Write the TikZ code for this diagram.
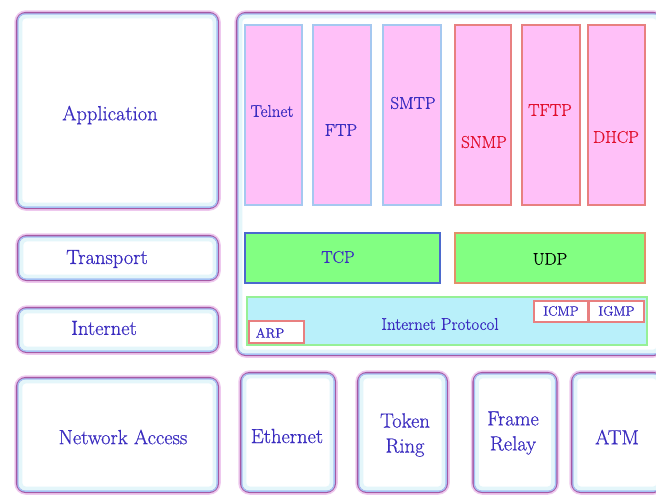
\documentclass[tikz,border=0pt]{standalone}
\usepackage{fontspec}
\setmainfont{Latin Modern Roman}[FakeBold=0.6]
\usetikzlibrary{positioning}
\definecolor{txtblue}{RGB}{58,44,192}
\definecolor{txtred}{RGB}{225,15,45}
\definecolor{layerpurple}{RGB}{165,90,165}
\definecolor{glowpink}{RGB}{238,200,238}
\definecolor{glowblue}{RGB}{165,195,245}
\definecolor{glowcyan}{RGB}{228,246,250}
\definecolor{appfill}{RGB}{255,192,248}
\definecolor{appblue}{RGB}{165,200,240}
\definecolor{appred}{RGB}{232,128,128}
\definecolor{tpgreen}{RGB}{130,255,130}
\definecolor{tcpborder}{RGB}{75,105,205}
\definecolor{udpborder}{RGB}{225,145,105}
\definecolor{ipfill}{RGB}{185,240,250}
\definecolor{ipborder}{RGB}{150,240,150}
\tikzset{
  layerbox/.style={rounded corners=9pt, fill=white, draw=layerpurple, line width=2.2pt,
    preaction={draw=glowpink, line width=5.5pt}, inner sep=0pt},
  glowline/.style={draw=glowblue, line width=1.3pt, rounded corners=7pt},
  glowsoft/.style={draw=glowcyan, line width=4pt, rounded corners=5pt},
  txt/.style={text=txtblue, font=\fontsize{20.5}{25}\selectfont, inner sep=0pt, align=center},
  smalltxt/.style={text=txtblue, font=\fontsize{17}{20}\selectfont, inner sep=0pt},
  redtxt/.style={text=txtred, font=\fontsize{17}{20}\selectfont, inner sep=0pt},
  appbox/.style={fill=appfill, draw=appblue, line width=1.3pt, inner sep=0pt},
  appboxred/.style={fill=appfill, draw=appred, line width=1.3pt, inner sep=0pt},
  tinybox/.style={fill=white, draw=appred, line width=1.2pt, inner sep=0pt,
    text=txtblue, font=\fontsize{13.5}{15}\selectfont},
}
\newcommand{\glowin}[1]{%
  \draw[glowsoft] ([shift={(4.5,4.5)}]#1.north west) rectangle ([shift={(-4.5,-4.5)}]#1.south east);
  \draw[glowline] ([shift={(2,2)}]#1.north west) rectangle ([shift={(-2,-2)}]#1.south east);}
\begin{document}
\begin{tikzpicture}[x=1pt,y=-1pt]
\useasboundingbox[fill=white] (0,0) rectangle (656,496);

% left layer column
\node[layerbox, minimum width=201, minimum height=195] (app) at (117.5,110.5) {};
\node[layerbox, minimum width=200, minimum height=44] (trans) at (118,258) {};
\node[layerbox, minimum width=200, minimum height=44] (inet) at (118,330) {};
\node[layerbox, minimum width=201, minimum height=114] (netacc) at (117.5,435) {};
% protocol container
\node[layerbox, minimum width=425, minimum height=342] (cont) at (449.5,184) {};
% network access technologies
\node[layerbox, minimum width=94, minimum height=119] (eth) at (288,432.5) {};
\node[layerbox, minimum width=89, minimum height=119] (tok) at (402.5,432.5) {};
\node[layerbox, minimum width=83, minimum height=119] (frm) at (515,432.5) {};
\node[layerbox, minimum width=90, minimum height=119] (atm) at (617,432.5) {};
\glowin{app}\glowin{trans}\glowin{inet}\glowin{netacc}\glowin{cont}
\glowin{eth}\glowin{tok}\glowin{frm}\glowin{atm}

\node[txt] (tapp) at (110,115) {Application};
\node[txt] (ttrans) at (107,259) {Transport};
\node[txt] (tinet) at (104,328) {Internet};
\node[txt] (tnet) at (123,437) {Network Access};
\node[txt] (teth) at (287,436) {Ethernet};
\node[txt] (ttok) at (405,435) {Token\\Ring};
\node[txt] (tfrm) at (513,433) {Frame\\Relay};
\node[txt] (tatm) at (617,437) {ATM};

% application protocols
\node[appbox, minimum width=57, minimum height=180] (telnet) at (273.5,115) {};
\node[appbox, minimum width=58, minimum height=180] (ftp) at (342,115) {};
\node[appbox, minimum width=58, minimum height=180] (smtp) at (412,115) {};
\node[appboxred, minimum width=56, minimum height=180] (snmp) at (483,115) {};
\node[appboxred, minimum width=58, minimum height=180] (tftp) at (551,115) {};
\node[appboxred, minimum width=57, minimum height=180] (dhcp) at (616.5,115) {};
\node[smalltxt] (ttelnet) at (272,111) {Telnet};
\node[smalltxt] (tftpl) at (341,130) {FTP};
\node[smalltxt] (tsmtp) at (413,103) {SMTP};
\node[redtxt] (tsnmp) at (484,142) {SNMP};
\node[redtxt] (ttftp) at (550,110) {TFTP};
\node[redtxt] (tdhcp) at (616,137) {DHCP};

% transport protocols
\node[fill=tpgreen, draw=tcpborder, line width=1.3pt, minimum width=195, minimum height=50, inner sep=0pt] (tcp) at (342.5,258) {};
\node[fill=tpgreen, draw=udpborder, line width=1.3pt, minimum width=190, minimum height=50, inner sep=0pt] (udp) at (550,258) {};
\node[smalltxt] (ttcp) at (338,257) {TCP};
\node[smalltxt, text=black] (tudp) at (550,259) {UDP};

% internet layer
\node[fill=ipfill, draw=ipborder, line width=1.3pt, minimum width=400, minimum height=48, inner sep=0pt] (ip) at (447,321) {};
\node[smalltxt] (tip) at (440,324) {Internet Protocol};
\node[tinybox, minimum width=55, minimum height=22] (arp) at (276.5,332) {};
\node[tinybox, minimum width=54, minimum height=21] (icmp) at (561,311.5) {};
\node[tinybox, minimum width=55, minimum height=21] (igmp) at (616.5,311.5) {};
\node[tinybox, draw=none, fill=none] (tarp) at (270,333) {ARP};
\node[tinybox, draw=none, fill=none] (ticmp) at (561,311) {ICMP};
\node[tinybox, draw=none, fill=none] (tigmp) at (616.5,311) {IGMP};
\end{tikzpicture}
\end{document}
